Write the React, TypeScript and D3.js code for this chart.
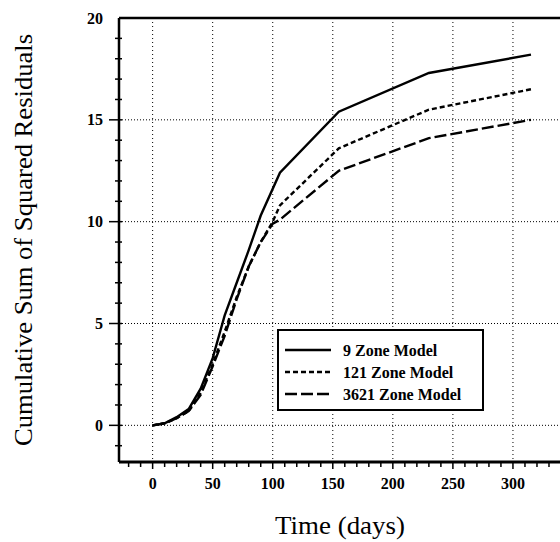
import React from "react";
import * as d3 from "d3";

const days9 = [0, 10, 20, 30, 40, 50, 60, 70, 80, 90, 106, 155, 230, 315];
const vals9 = [0, 0.1, 0.4, 0.8, 1.8, 3.3, 5.4, 7.0, 8.6, 10.3, 12.4, 15.4, 17.3, 18.2];
const days121 = [0, 10, 20, 30, 40, 50, 60, 70, 80, 90, 100, 106, 155, 230, 315];
const vals121 = [0, 0.1, 0.35, 0.7, 1.6, 3.0, 4.6, 6.3, 7.8, 9.0, 10.0, 10.8, 13.6, 15.5, 16.5];
const days3621 = [0, 10, 20, 30, 40, 50, 60, 70, 80, 90, 100, 106, 155, 230, 315];
const vals3621 = [0, 0.1, 0.35, 0.7, 1.5, 2.9, 4.4, 6.2, 7.8, 9.0, 9.9, 10.1, 12.5, 14.1, 15.0];

const xTicks = [0, 50, 100, 150, 200, 250, 300];
const yTicks = [0, 5, 10, 15, 20];
const seriesNames = ["9 Zone Model", "121 Zone Model", "3621 Zone Model"];
const dashes = ["none", "5,3", "12,4"];

export default function App() {
  const W = 560, H = 542;
  const x = d3.scaleLinear().domain([-28, 340]).range([119, 561]);
  const y = d3.scaleLinear().domain([-1.8, 20]).range([462, 18]);
  const series = [
    days9.map((d, i) => [d, vals9[i]]),
    days121.map((d, i) => [d, vals121[i]]),
    days3621.map((d, i) => [d, vals3621[i]]),
  ];
  const line = d3.line<number[]>().x((d) => x(d[0])).y((d) => y(d[1]));
  const xMinor = d3.range(-20, 341, 10);
  const yMinor = d3.range(-1, 20, 1);
  const font = "'Liberation Serif', 'Times New Roman', serif";
  const x0 = x.range()[0], x1 = x.range()[1];
  const y0 = y.range()[0], y1 = y.range()[1];
  return (
    <div style={{ position: "absolute", left: 0, top: 0 }}>
      <svg width={W} height={H} style={{ display: "block", background: "#fff" }}>
        <rect width={W} height={H} fill="#fff" />
        {/* grid */}
        {xTicks.map((t) => (
          <line key={"gx" + t} x1={x(t)} x2={x(t)} y1={y1} y2={y0} stroke="#000" strokeWidth={1} strokeDasharray="1,3" />
        ))}
        {yTicks.filter((t) => t < 20).map((t) => (
          <line key={"gy" + t} x1={x0} x2={x1} y1={y(t)} y2={y(t)} stroke="#000" strokeWidth={1} strokeDasharray="1,2" />
        ))}
        {/* series */}
        {series.map((s, i) => (
          <path key={"s" + i} d={line(s) || ""} fill="none" stroke="#000" strokeWidth={2.4} strokeDasharray={dashes[i]} />
        ))}
        {/* axes */}
        <line x1={x0} x2={x1} y1={y1} y2={y1} stroke="#000" strokeWidth={2.5} />
        <line x1={x0} x2={x0} y1={y1} y2={y0} stroke="#000" strokeWidth={2.5} />
        <line x1={x0} x2={x1} y1={y0} y2={y0} stroke="#000" strokeWidth={3} />
        {yMinor.map((t) => (
          <line key={"ym" + t} x1={x0 - (t % 5 === 0 ? 10 : 4)} x2={x0 + 3} y1={y(t)} y2={y(t)} stroke="#000" strokeWidth={1.5} />
        ))}
        {xMinor.map((t) => (
          <line key={"xm" + t} x1={x(t)} x2={x(t)} y1={y0} y2={y0 + (t % 50 === 0 ? 7 : 5)} stroke="#000" strokeWidth={1.5} />
        ))}
        {yTicks.map((t) => (
          <text key={"yl" + t} x={103} y={y(t)} dy="0.35em" textAnchor="end" fontFamily={font} fontWeight="bold" fontSize={16}>
            {t}
          </text>
        ))}
        {xTicks.map((t) => (
          <text key={"xl" + t} x={x(t)} y={483} dy="0.35em" textAnchor="middle" fontFamily={font} fontWeight="bold" fontSize={16}>
            {t}
          </text>
        ))}
        <text x={340} y={534} textAnchor="middle" fontFamily={font} fontSize={26} textLength={130} lengthAdjust="spacingAndGlyphs">
          Time (days)
        </text>
        <text transform="translate(32,240) rotate(-90)" textAnchor="middle" fontFamily={font} fontSize={26} textLength={412} lengthAdjust="spacingAndGlyphs">
          Cumulative Sum of Squared Residuals
        </text>
        {/* legend */}
        <rect x={278} y={330} width={205} height={80} fill="#fff" stroke="#000" strokeWidth={2} />
        {seriesNames.map((n, i) => (
          <g key={"lg" + i}>
            <line x1={285} x2={331} y1={350 + i * 22} y2={350 + i * 22} stroke="#000" strokeWidth={2.4} strokeDasharray={dashes[i]} />
            <text x={343} y={350 + i * 22} dy="0.35em" fontFamily={font} fontWeight="bold" fontSize={16}>
              {n}
            </text>
          </g>
        ))}
      </svg>
    </div>
  );
}
